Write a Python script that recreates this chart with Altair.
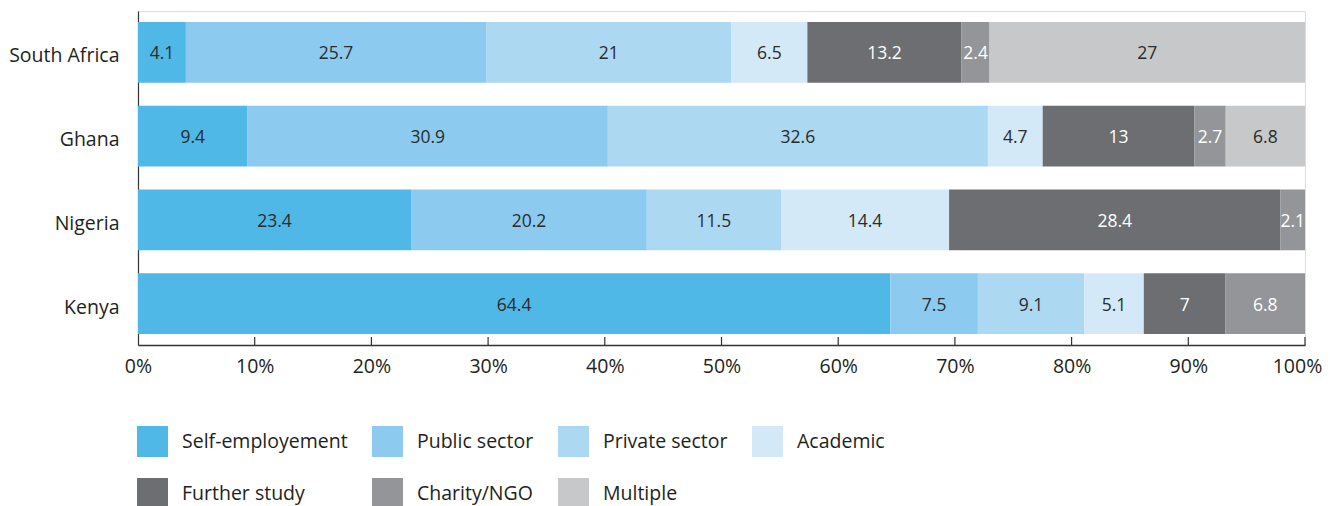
import altair as alt
import pandas as pd

countries = ["South Africa", "Ghana", "Nigeria", "Kenya"]
categories = ["Self-employement", "Public sector", "Private sector", "Academic",
              "Further study", "Charity/NGO", "Multiple"]
self_employment = [4.1, 9.4, 23.4, 64.4]
public_sector = [25.7, 30.9, 20.2, 7.5]
private_sector = [21, 32.6, 11.5, 9.1]
academic = [6.5, 4.7, 14.4, 5.1]
further_study = [13.2, 13, 28.4, 7]
charity_ngo = [2.4, 2.7, 2.1, 6.8]
multiple = [27, 6.8, None, None]
colors = ["#4fb8e7", "#8ccbef", "#acd8f2", "#d4e9f8", "#6d6e71", "#939598", "#c7c8ca"]
tick_values = [0.0, 0.1, 0.2, 0.3, 0.4, 0.5, 0.6, 0.7, 0.8, 0.9, 1.0]

series = [self_employment, public_sector, private_sector, academic,
          further_study, charity_ngo, multiple]
rows = []
for ci, (cat, vals) in enumerate(zip(categories, series)):
    for country, v in zip(countries, vals):
        if v is None:
            continue
        rows.append({"country": country, "category": cat, "order": ci,
                     "value": v, "label": f"{v:g}"})
df = pd.DataFrame(rows)

W, H = 1167, 334
FONT = "Open Sans"
FS = 19.5

yenc = alt.Y("country:N", sort=countries,
             scale=alt.Scale(paddingInner=0.274, paddingOuter=0.131),
             axis=alt.Axis(title=None, ticks=False, domain=True, domainColor="#333",
                           domainWidth=1.2, labelFontSize=FS, labelFont=FONT,
                           labelColor="#231f20", labelPadding=19, labelOffset=4))

base = alt.Chart(df).transform_stack(
    stack="value", groupby=["country"], as_=["x0", "x1"],
    sort=[alt.SortField("order", order="ascending")], offset="normalize"
).transform_calculate(xm="(datum.x0 + datum.x1) / 2")

bars = base.mark_bar().encode(
    x=alt.X("x0:Q", scale=alt.Scale(domain=[0, 1], nice=False),
            axis=alt.Axis(title=None, format="%", values=tick_values, grid=False,
                          ticks=False, domain=True, domainColor="#333", domainWidth=1.5,
                          labelFontSize=FS, labelFont=FONT, labelColor="#231f20",
                          labelPadding=12, labelFlush=False,
                          labelOffset={"condition": {"test": "datum.value === 1", "value": -8},
                                       "value": 0})),
    x2="x1:Q",
    y=yenc,
    order=alt.Order("order:Q"),
    color=alt.Color("category:N", scale=alt.Scale(domain=categories, range=colors),
                    legend=alt.Legend(title=None, orient="none", legendX=-1, legendY=415,
                                      direction="horizontal", columns=4,
                                      symbolType="square", symbolSize=961,
                                      symbolStrokeWidth=0, labelFontSize=FS,
                                      labelFont=FONT, labelColor="#231f20",
                                      labelOffset=14, columnPadding=24, rowPadding=21,
                                      labelLimit=400, padding=0, gridAlign="each")),
)

text = base.mark_text(fontSize=17.5, font=FONT, dy=2).encode(
    x="xm:Q",
    y=alt.Y("country:N", sort=countries),
    text="label:N",
    color=alt.condition("datum.order == 4 || datum.order == 5",
                        alt.value("#ffffff"), alt.value("#2b2b2b")),
)

ticks = alt.Chart(pd.DataFrame({"t": tick_values[1:]})).mark_rule(
    color="#333", strokeWidth=1.2
).encode(x="t:Q", y=alt.value(H - 8), y2=alt.value(H))

chart = alt.layer(bars, text, ticks).properties(
    width=W, height=H,
    autosize=alt.AutoSizeParams(type="none"),
    padding={"left": 130, "top": 3, "right": 17, "bottom": 161},
).configure_view(stroke=None).configure(background="white")

chart.save("out.html", embed_options={"renderer": "svg", "actions": False})
